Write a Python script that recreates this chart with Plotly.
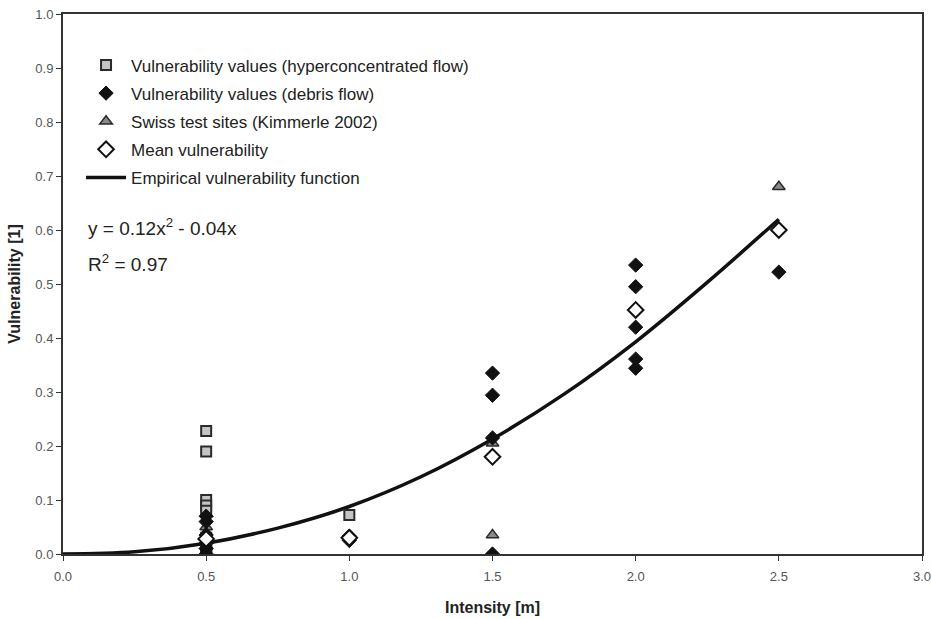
import plotly.graph_objects as go

# Vulnerability values (hyperconcentrated flow)
hyper_x = [0.5, 0.5, 0.5, 0.5, 0.5, 0.5, 0.5, 0.5, 0.5, 0.5, 1.0]
hyper_y = [0.228, 0.19, 0.10, 0.09, 0.08, 0.03, 0.02, 0.01, 0.005, 0.0, 0.072]

# Vulnerability values (debris flow)
debris_x = [0.5, 0.5, 0.5, 0.5, 0.5, 0.5, 1.0, 1.0, 1.5, 1.5, 1.5, 1.5,
            2.0, 2.0, 2.0, 2.0, 2.0, 2.5]
debris_y = [0.07, 0.06, 0.035, 0.02, 0.01, 0.0, 0.033, 0.025, 0.335, 0.294, 0.215, 0.0,
            0.535, 0.495, 0.42, 0.361, 0.344, 0.522]

# Swiss test sites (Kimmerle 2002)
swiss_x = [0.5, 0.5, 0.5, 1.5, 1.5, 2.5]
swiss_y = [0.05, 0.04, 0.015, 0.205, 0.035, 0.68]

# Mean vulnerability
mean_x = [0.5, 1.0, 1.5, 2.0, 2.5]
mean_y = [0.028, 0.03, 0.18, 0.452, 0.60]

# Empirical vulnerability function
fit_x = [0.0, 0.25, 0.5, 0.75, 1.0, 1.25, 1.5, 1.75, 2.0, 2.25, 2.5]
fit_y = [0.0, 0.004, 0.02, 0.048, 0.088, 0.143, 0.213, 0.296, 0.393, 0.503, 0.62]

x_ticks = [0.0, 0.5, 1.0, 1.5, 2.0, 2.5, 3.0]
y_ticks = [0.0, 0.1, 0.2, 0.3, 0.4, 0.5, 0.6, 0.7, 0.8, 0.9, 1.0]

FONT = "Liberation Sans, Arial, sans-serif"

fig = go.Figure()

fig.add_trace(go.Scatter(
    x=fit_x, y=fit_y, mode="lines", line=dict(color="#111111", width=3.5, shape="spline"),
    name="Empirical vulnerability function", legendgroup="e", legendrank=5,
))
fig.add_trace(go.Scatter(
    x=hyper_x, y=hyper_y, mode="markers",
    marker=dict(symbol="square", size=10, color="#c4c4c4", line=dict(color="#2a2a2a", width=2)),
    name="Vulnerability values (hyperconcentrated flow)", legendgroup="a", legendrank=1,
))
fig.add_trace(go.Scatter(
    x=swiss_x, y=swiss_y, mode="markers",
    marker=dict(symbol="triangle-up", size=11, color="#8a8a8a", line=dict(color="#2a2a2a", width=1.5)),
    name="Swiss test sites (Kimmerle 2002)", legendgroup="c", legendrank=3,
))
fig.add_trace(go.Scatter(
    x=debris_x, y=debris_y, mode="markers",
    marker=dict(symbol="diamond", size=11, color="#111111", line=dict(color="#111111", width=1)),
    name="Vulnerability values (debris flow)", legendgroup="b", legendrank=2,
))
fig.add_trace(go.Scatter(
    x=mean_x, y=mean_y, mode="markers",
    marker=dict(symbol="diamond", size=12, color="white", line=dict(color="#111111", width=2)),
    name="Mean vulnerability", legendgroup="d", legendrank=4,
))

fig.add_annotation(
    x=0.027, y=0.605, xref="paper", yref="paper", xanchor="left", yanchor="middle",
    text="y = 0.12x<sup>2</sup> - 0.04x", showarrow=False,
    font=dict(family=FONT, size=19, color="#222222"),
)
fig.add_annotation(
    x=0.027, y=0.538, xref="paper", yref="paper", xanchor="left", yanchor="middle",
    text="R<sup>2</sup> = 0.97", showarrow=False,
    font=dict(family=FONT, size=19, color="#222222"),
)

fig.update_layout(
    width=932, height=619,
    margin=dict(l=63, r=10, t=14, b=65),
    paper_bgcolor="white", plot_bgcolor="white",
    font=dict(family=FONT, color="#222222"),
    showlegend=True,
    legend=dict(
        x=0.021, y=0.938, xanchor="left", yanchor="top",
        bgcolor="rgba(0,0,0,0)", borderwidth=0,
        font=dict(family=FONT, size=17, color="#222222"),
        tracegroupgap=3, itemwidth=40,
    ),
    xaxis=dict(
        range=[0, 3.0], tickvals=x_ticks, ticktext=[f"{v:.1f}" for v in x_ticks],
        showgrid=False, zeroline=False, showline=True, linecolor="#333333", linewidth=2,
        mirror=True, ticks="outside", ticklen=5, tickcolor="#333333", automargin=False,
        tickfont=dict(size=13, color="#555555"), ticklabelstandoff=4,
        title=dict(text="Intensity [m]", font=dict(size=16, color="#222222", weight="bold"), standoff=19),
    ),
    yaxis=dict(
        range=[0, 1.0], tickvals=y_ticks, ticktext=[f"{v:.1f}" for v in y_ticks],
        showgrid=False, zeroline=False, showline=True, linecolor="#333333", linewidth=2,
        mirror=True, ticks="outside", ticklen=5, tickcolor="#333333", automargin=False,
        tickfont=dict(size=13, color="#555555"),
        title=dict(text="Vulnerability [1]", font=dict(size=16, color="#222222", weight="bold"), standoff=11),
    ),
)

fig.write_html("out.html", config={"displayModeBar": False},
               post_script="document.body.style.margin='0';")
